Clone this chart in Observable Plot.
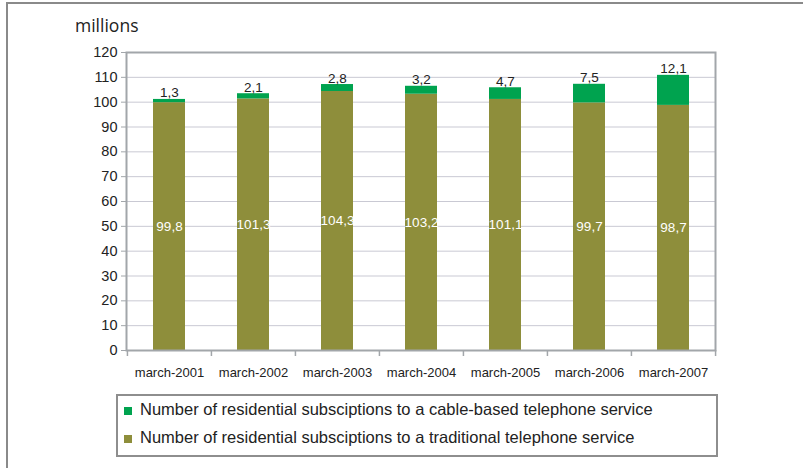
<!DOCTYPE html>
<html>
<head>
<meta charset="utf-8">
<script src="https://cdn.jsdelivr.net/npm/d3@7"></script>
<script src="https://cdn.jsdelivr.net/npm/@observablehq/plot@0.6"></script>
<style>
  html, body { margin: 0; padding: 0; background: #fff; }
  #wrap { position: relative; width: 803px; height: 468px; overflow: hidden; font-family: "Liberation Sans", Arial, sans-serif; }
  #outer { position: absolute; left: 6px; top: 2px; width: 800px; height: 470px; border-top: 2px solid #8a8a8a; border-left: 2px solid #8a8a8a; }
  #unit { position: absolute; left: 75px; top: 17px; font-family: "Open Sans", sans-serif; font-size: 17.5px; line-height: 17px; color: #222; }
  #chart { position: absolute; left: 0; top: 0; }
  #legend { position: absolute; left: 116px; top: 394px; width: 598px; height: 59px; border: 2px solid #8e8e8e; }
  .row { position: absolute; left: 6px; font-size: 16.5px; color: #222; white-space: nowrap; }
  .sw { display: inline-block; width: 8px; height: 8px; margin-right: 8px; }
</style>
</head>
<body>
<div id="wrap">
  <div id="outer"></div>
  <div id="chart"></div>
  <div id="unit">millions</div>
  <div id="legend"></div>
</div>
<script>
const dates = ["march-2001","march-2002","march-2003","march-2004","march-2005","march-2006","march-2007"];
const traditional = [99.8, 101.3, 104.3, 103.2, 101.1, 99.7, 98.7];
const cable = [1.3, 2.1, 2.8, 3.2, 4.7, 7.5, 12.1];
const seriesNames = [
  "Number of residential subsciptions to a cable-based telephone service",
  "Number of residential subsciptions to a traditional telephone service"
];
const seriesColors = ["#00a34f", "#8e8e3b"];
const yTicks = d3.range(0, 121, 10);

const fmt = v => v.toFixed(1).replace(".", ",");

const rows = [];
dates.forEach((d, i) => rows.push({date: d, series: seriesNames[1], value: traditional[i]}));
dates.forEach((d, i) => rows.push({date: d, series: seriesNames[0], value: cable[i]}));
const totals = dates.map((d, i) => ({date: d, trad: traditional[i], cable: cable[i], total: traditional[i] + cable[i]}));

const W = 803, H = 390, mL = 126, mR = 88;
const step = (W - mL - mR) / dates.length;

const chart = Plot.plot({
  width: W, height: H,
  marginLeft: mL, marginRight: mR, marginTop: 52, marginBottom: 40,
  style: { fontFamily: "'Liberation Sans', Arial, sans-serif", background: "transparent", color: "#222" },
  x: { domain: dates, paddingInner: 0.62, paddingOuter: 0.31, label: null },
  y: { domain: [0, 120], label: null },
  color: { domain: seriesNames, range: seriesColors },
  marks: [
    Plot.gridY(yTicks, { stroke: "#c9c9d3", strokeOpacity: 1, strokeWidth: 1 }),
    Plot.barY(rows, { x: "date", y: "value", fill: "series", order: null }),
    Plot.frame({ stroke: "#a2a6aa", strokeWidth: 2 }),
    Plot.ruleX(dates, { x: d => d, dx: -step / 2, y1: 0, y2: 0, insetBottom: -6, stroke: "#a2a6aa", strokeWidth: 1.5 }),
    Plot.ruleX(dates.slice(-1), { x: d => d, dx: step / 2, y1: 0, y2: 0, insetBottom: -6, stroke: "#a2a6aa", strokeWidth: 1.5 }),
    Plot.axisY({ ticks: yTicks, tickSize: 5, tickPadding: 4, fontSize: 14.5, stroke: "#a2a6aa", strokeOpacity: 1, label: null }),
    Plot.axisX({ tickSize: 0, tickPadding: 17, fontSize: 13, label: null }),
    Plot.text(totals, { x: "date", y: "total", text: d => fmt(d.cable), lineAnchor: "bottom", dy: -2, fontSize: 13.5, fill: "#222" }),
    Plot.text(totals, { x: "date", y: d => d.trad / 2, text: d => fmt(d.trad), fontSize: 13.5, fill: "#fff" })
  ]
});
document.getElementById("chart").appendChild(chart);

const legend = document.getElementById("legend");
const rowTops = [4, 32];
seriesNames.forEach((name, i) => {
  const r = document.createElement("div");
  r.className = "row";
  r.style.top = rowTops[i] + "px";
  r.innerHTML = `<span class="sw" style="background:${seriesColors[i]}"></span>${name}`;
  legend.appendChild(r);
});
</script>
</body>
</html>
